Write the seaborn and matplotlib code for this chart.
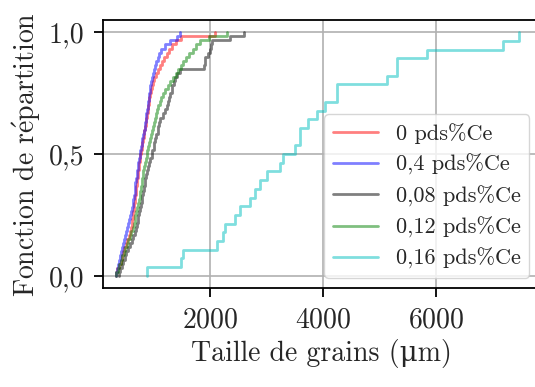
import matplotlib
matplotlib.use("Agg")
import matplotlib.pyplot as plt
import seaborn as sns

# grain sizes (µm), one list per composition
ce_0 = [335, 360, 390, 415, 435, 455, 475, 505, 535, 560,
        585, 600, 612, 620, 628, 640, 650, 660, 670, 680,
        688, 695, 702, 712, 722, 732, 740, 748, 755, 762,
        775, 788, 800, 812, 825, 838, 848, 862, 875, 890,
        902, 910, 918, 925, 935, 950, 970, 995, 1015, 1040,
        1075, 1110, 1150, 1180, 1230, 1270, 1330, 1390, 1490, 2090]
ce_04 = [335, 355, 375, 395, 410, 425, 440, 455, 475, 495,
         515, 535, 555, 570, 590, 605, 620, 632, 645, 655,
         665, 672, 680, 690, 700, 710, 720, 730, 742, 755,
         768, 780, 790, 800, 812, 825, 840, 852, 862, 872,
         884, 895, 905, 915, 925, 935, 945, 960, 975, 990,
         1010, 1030, 1050, 1075, 1095, 1140, 1200, 1290, 1410, 1470]
ce_008 = [380, 410, 440, 465, 490, 520, 550, 580, 610, 640,
          665, 690, 705, 718, 730, 745, 760, 775, 790, 802,
          815, 828, 840, 855, 870, 885, 905, 925, 945, 965,
          980, 1000, 1015, 1030, 1050, 1070, 1085, 1100, 1120, 1170,
          1205, 1230, 1255, 1280, 1300, 1320, 1335, 1355, 1375, 1420,
          1470, 1900, 1905, 1915, 1960, 2000, 2010, 2030, 2345, 2595]
ce_012 = [335, 365, 395, 420, 445, 470, 500, 525, 555, 580,
          605, 630, 650, 665, 680, 695, 710, 725, 740, 752,
          765, 778, 790, 800, 810, 822, 835, 848, 862, 878,
          892, 905, 920, 935, 950, 968, 985, 1005, 1022, 1040,
          1060, 1085, 1110, 1135, 1160, 1200, 1250, 1300, 1345, 1390,
          1440, 1490, 1530, 1580, 1630, 1700, 1760, 1830, 1990, 2295]
ce_016 = [890, 1481, 1527, 2130, 2224, 2265, 2442, 2531, 2708, 2796,
          2885, 3003, 3239, 3287, 3504, 3593, 3593, 3740, 3888, 4035,
          4242, 4242, 5127, 5304, 5304, 5835, 7191, 7469]

labels = ["0 pds%Ce", "0,4 pds%Ce", "0,08 pds%Ce", "0,12 pds%Ce", "0,16 pds%Ce"]
colors = ["r", "b", "k", "g", "c"]
xticks = [2000, 4000, 6000]
yticks = [0.0, 0.5, 1.0]
ytick_labels = ["0,0", "0,5", "1,0"]

sns.set_style("ticks", {"axes.grid": True, "grid.color": "#b0b0b0",
                        "axes.edgecolor": "black"})
plt.rcParams["font.family"] = ["cmr10", "DejaVu Serif"]
plt.rcParams["mathtext.fontset"] = "cm"
plt.rcParams["axes.formatter.use_mathtext"] = True

fig = plt.figure(figsize=(5.35, 3.87), dpi=100)
ax = fig.add_axes([0.192, 0.256, 0.816, 0.692])

for vals, lab, col in zip([ce_0, ce_04, ce_008, ce_012, ce_016], labels, colors):
    sns.ecdfplot(x=vals, ax=ax, color=col, alpha=0.5, lw=2, label=lab)

ax.set_xlim(100, 7830)
ax.set_ylim(-0.05, 1.05)
ax.set_xticks(xticks)
ax.set_yticks(yticks, labels=ytick_labels)
ax.grid(True, color="#b0b0b0", lw=1.2)
for s in ax.spines.values():
    s.set_linewidth(1.3)
ax.tick_params(length=6.5, width=1.3, pad=7, labelsize=20, color="black")
# cmr10 has no µ / é, so the mu comes from DejaVu Serif and é from mathtext
ax.set_xlabel("Taille de grains (\u03bcm)", fontsize=20)
ax.set_ylabel(r"Fonction de r$\acute{\mathrm{e}}$partition", fontsize=20)
ax.legend(loc="lower right", fontsize=16, handlelength=2.0,
          borderaxespad=0.45, labelspacing=0.45)

fig.savefig("out.png", dpi=100)
